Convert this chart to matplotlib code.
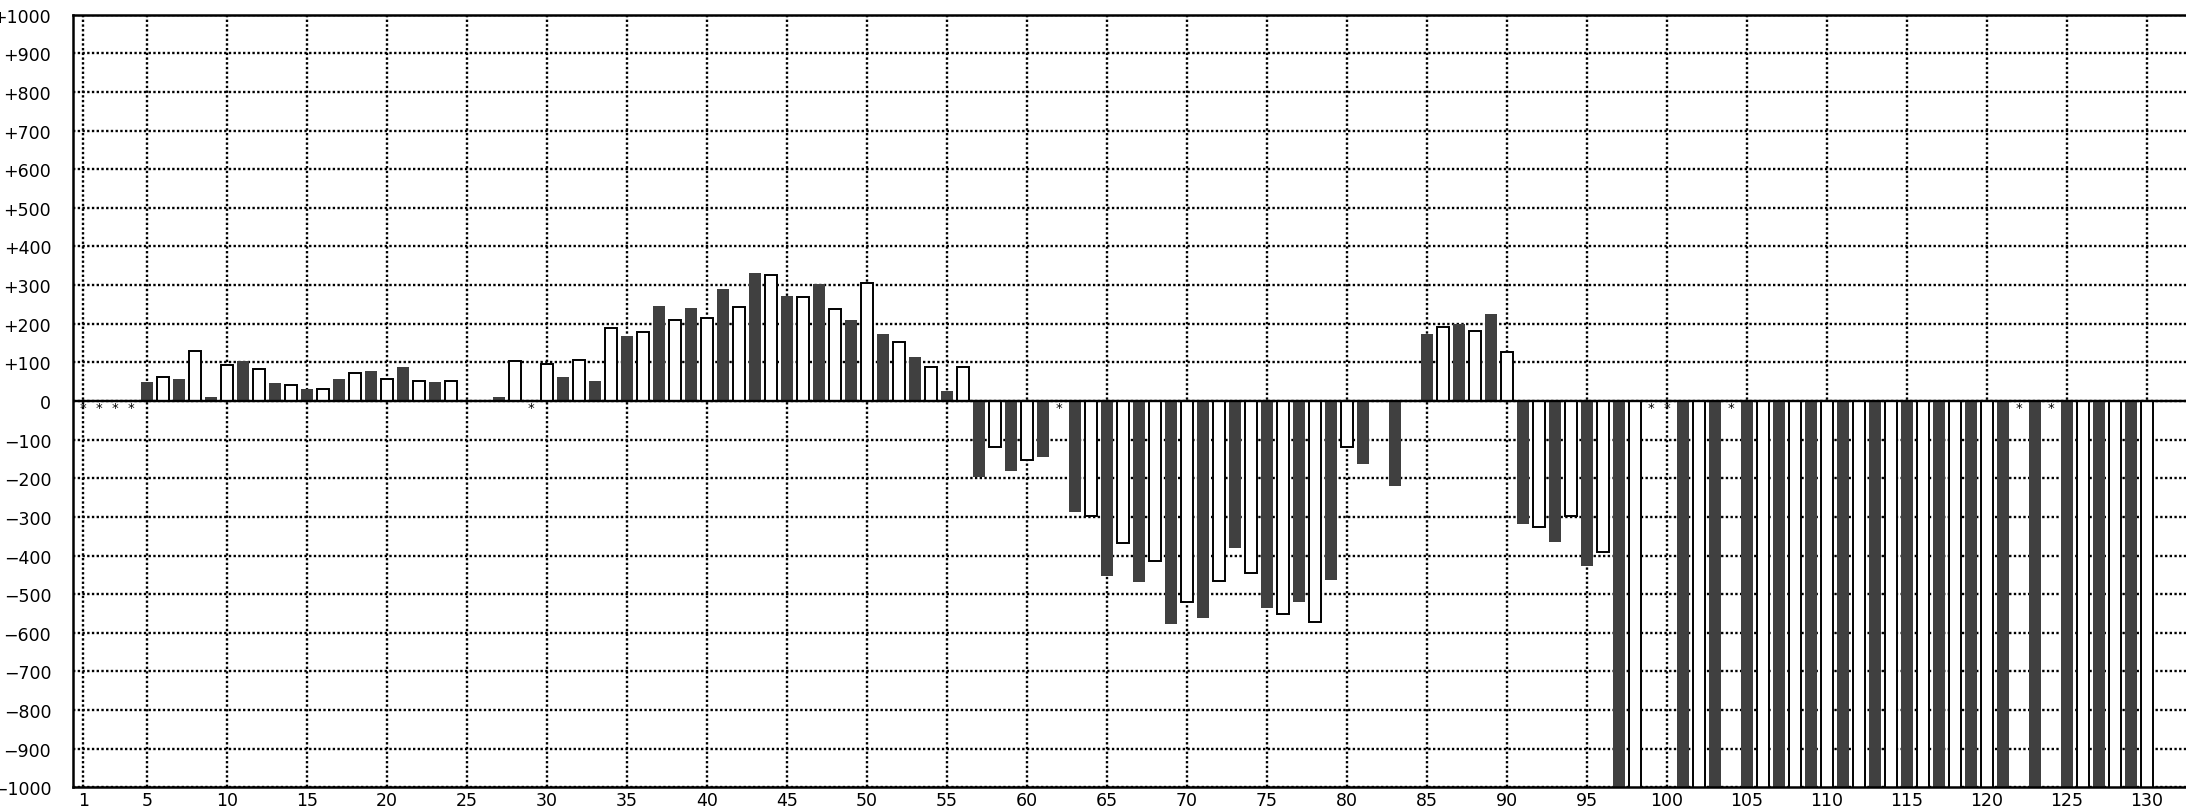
import numpy as np
import matplotlib.pyplot as plt

# positions 1..130, nan = missing value (drawn as a small star), -1100 = off the scale
positions = list(range(1, 131))
values = [
    np.nan, np.nan, np.nan, np.nan, 50, 63, 57, 130, 10, 94,
    103, 83, 46, 42, 30, 32, 57, 73, 77, 58,
    88, 53, 50, 53, 0, 0, 10, 104, np.nan, 95,
    61, 105, 51, 189, 168, 179, 246, 210, 241, 216,
    289, 242, 331, 326, 273, 268, 304, 237, 210, 305,
    173, 153, 115, 89, 25, 89, -196, -119, -180, -154,
    -144, np.nan, -288, -299, -454, -367, -469, -413, -577, -521,
    -562, -465, -381, -444, -536, -552, -521, -573, -464, -119,
    -164, 0, -221, 0, 174, 191, 200, 180, 226, 127,
    -318, -325, -365, -299, -427, -392, -1100, -1100, np.nan, np.nan,
    -1100, -1100, -1100, np.nan, -1100, -1100, -1100, -1100, -1100, -1100,
    -1100, -1100, -1100, -1100, -1100, -1100, -1100, -1100, -1100, -1100,
    -1100, np.nan, -1100, np.nan, -1100, -1100, -1100, -1100, -1100, -1100,
]
x_ticks = [1] + list(range(5, 131, 5))
y_ticks = list(range(-1000, 1001, 100))


def y_label(v):
    if v > 0:
        return "+{}".format(v)
    if v < 0:
        return "\u2212{}".format(-v)
    return "0"


def plot_bars(pos, vals):
    fig = plt.figure(figsize=(21.86, 8.12), dpi=100)
    ax = fig.add_axes([0.0336, 0.0292, 0.9664, 0.9515])

    pos = np.array(pos)
    vals = np.array(vals, dtype=float)
    dark = pos % 2 == 1
    ok = ~np.isnan(vals)

    ax.bar(pos[dark & ok], vals[dark & ok], width=0.75, color='#404040', linewidth=0, zorder=2)
    ax.bar(pos[~dark & ok], vals[~dark & ok], width=0.75, color='white', edgecolor='black',
           linewidth=1.4, zorder=2)

    # missing values get a little star on the zero line
    for p in pos[~ok]:
        ax.annotate('*', (p, 0), xytext=(0, -7), textcoords='offset points',
                    ha='center', va='baseline', fontsize=9.5, zorder=4)

    ax.axhline(0, color='black', linewidth=1.7, zorder=3)

    ax.set_xlim(0.39, 132.44)
    ax.set_ylim(-1000, 1000)
    ax.set_xticks(x_ticks)
    ax.set_yticks(y_ticks)
    ax.set_yticklabels([y_label(v) for v in y_ticks])
    ax.tick_params(axis='both', length=0, labelsize=12.5)
    ax.tick_params(axis='y', pad=16)
    ax.tick_params(axis='x', pad=3)

    ax.set_axisbelow(True)
    ax.grid(True, color='black', linestyle=(0, (1, 1)), linewidth=1.7)

    for s in ['left', 'top', 'bottom']:
        ax.spines[s].set_linewidth(1.8)
    ax.spines['right'].set_visible(False)

    plt.savefig('out.png', dpi=100)


if __name__ == "__main__":
    plot_bars(positions, values)
